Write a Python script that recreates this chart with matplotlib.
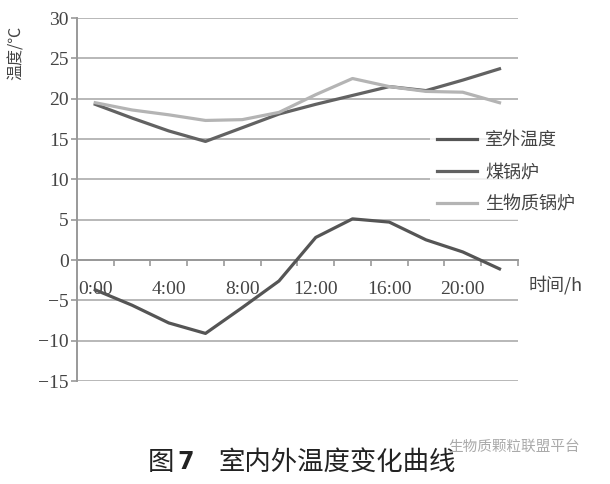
import matplotlib.pyplot as plt
from matplotlib.lines import Line2D

# data
hours = ['0:00', '2:00', '4:00', '6:00', '8:00', '10:00',
         '12:00', '14:00', '16:00', '18:00', '20:00', '22:00']
outdoor = [-3.7, -5.6, -7.8, -9.1, -5.9, -2.6, 2.8, 5.1, 4.7, 2.5, 1.0, -1.1]
coal = [19.3, 17.6, 16.0, 14.7, 16.4, 18.1, 19.3, 20.4, 21.5, 21.0, 22.3, 23.7]
biomass = [19.5, 18.6, 18.0, 17.3, 17.4, 18.3, 20.5, 22.5, 21.5, 20.9, 20.8, 19.5]
series_names = ['室外温度', '煤锅炉', '生物质锅炉']
yticks = [30, 25, 20, 15, 10, 5, 0, -5, -10, -15]

serif = ['Liberation Serif', 'Noto Sans CJK SC']
cjk = ['Noto Sans CJK SC', 'DejaVu Sans']

fig = plt.figure(figsize=(6.1, 4.84), dpi=100)
ax = fig.add_axes([0.126, 0.2128, 0.723, 0.75])

x = list(range(len(hours)))
dark = '#555555'
mid = '#626262'
light = '#b4b4b4'
ax.plot(x, outdoor, color=dark, lw=2.3, zorder=3)
ax.plot(x, coal, color=mid, lw=2.3, zorder=3)
ax.plot(x, biomass, color=light, lw=2.3, zorder=3)

ax.set_xlim(-0.5, len(hours) - 0.5)
ax.set_ylim(-15, 30)

# horizontal grid
for v in yticks:
    ax.axhline(v, color='#b8b8b8', lw=1.4, zorder=1)

ax.set_yticks(yticks)
ax.set_yticklabels([str(v).replace('-', '−') for v in yticks],
                   fontfamily=serif, fontsize=14, color='#444444')
ax.tick_params(axis='y', length=4, color='#999999', width=1.2, pad=2)

# category axis at y = 0
ax.spines['bottom'].set_position(('data', 0))
ax.spines['bottom'].set_color('#999999')
ax.spines['bottom'].set_linewidth(1.4)
ax.spines['left'].set_color('#999999')
ax.spines['left'].set_linewidth(1.4)
ax.spines['top'].set_visible(False)
ax.spines['right'].set_visible(False)

ax.set_xticks(x[::2])
ax.set_xticklabels(hours[::2], fontfamily=serif, fontsize=14, color='#444444')
ax.set_xticks([i - 0.5 for i in range(1, len(hours) + 1)], minor=True)
ax.tick_params(axis='x', which='major', length=0, pad=15)
ax.tick_params(axis='x', which='minor', length=4, color='#999999', width=1.2)

handles = [Line2D([], [], color=dark, lw=2.3),
           Line2D([], [], color=mid, lw=2.3),
           Line2D([], [], color=light, lw=2.3)]
leg = ax.legend(handles, series_names, loc='upper left',
                bbox_to_anchor=(0.69, 0.763), bbox_transform=fig.transFigure,
                frameon=True, handlelength=2.2, labelspacing=0.78,
                prop={'family': cjk, 'size': 13}, borderpad=0.4,
                handletextpad=0.45, fancybox=False)
leg.get_frame().set_facecolor('white')
leg.get_frame().set_edgecolor('none')
for t in leg.get_texts():
    t.set_color('#444444')

fig.text(0.027, 0.89, '温度/℃', rotation=90, ha='center', va='center',
         fontsize=11.5, family=cjk, color='#444444')
fig.text(0.867, 0.411, '时间/h', ha='left', va='center',
         fontsize=13, family=cjk, color='#444444')

fig.text(0.243, 0.045, '图', ha='left', va='center', fontsize=19,
         family=cjk, color='#222222')
fig.text(0.291, 0.045, '7', ha='left', va='center', fontsize=17,
         family=['DejaVu Sans'], fontweight='bold', color='#222222')
fig.text(0.358, 0.045, '室内外温度变化曲线', ha='left', va='center',
         fontsize=19, family=cjk, color='#222222')
fig.text(0.735, 0.077, '生物质颗粒联盟平台', ha='left', va='center',
         fontsize=10.5, family=cjk, color='#aaaaaa')

fig.savefig('out.png', dpi=100)
